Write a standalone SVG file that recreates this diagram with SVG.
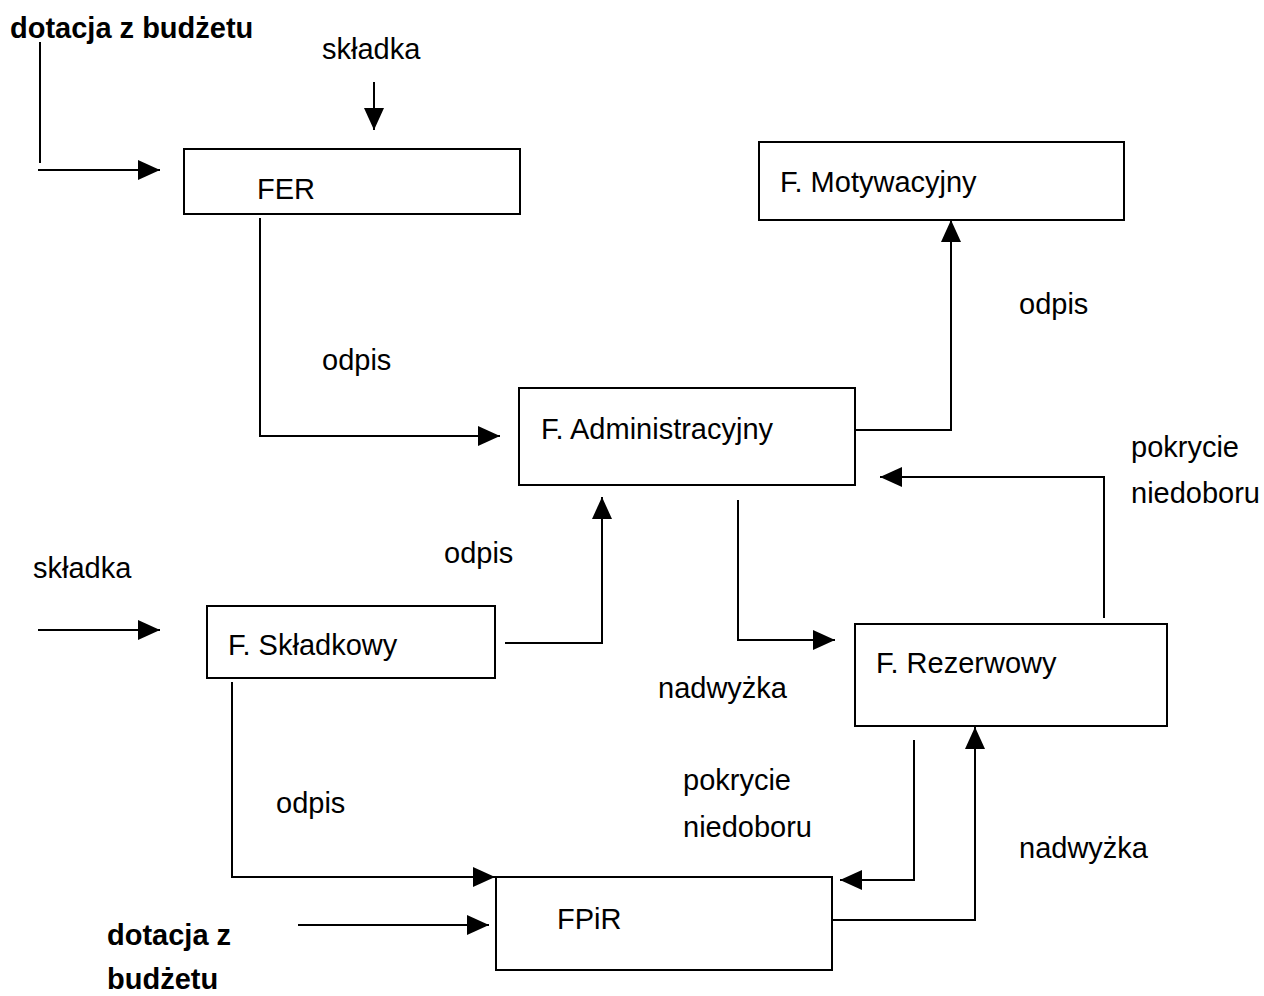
<svg xmlns="http://www.w3.org/2000/svg" width="1264" height="996" viewBox="0 0 1264 996">
<style>
.box{fill:#fff;stroke:#000;stroke-width:2}
.ln{fill:none;stroke:#000;stroke-width:2}
.t{font-family:"Liberation Sans",Arial,sans-serif;font-size:29px;fill:#000}
.b{font-family:"Liberation Sans",Arial,sans-serif;font-size:29px;font-weight:bold;fill:#000}
</style>
<defs>
<marker id="ah" markerWidth="22" markerHeight="20" refX="22" refY="10" orient="auto" markerUnits="userSpaceOnUse" viewBox="0 0 22 20">
<path d="M0,0 L22,10 L0,20 z" fill="#000"/>
</marker>
</defs>
<rect width="1264" height="996" fill="#fff"/>
<g id="connectors">
<polyline class="ln" points="40,42 40,163"/>
<line class="ln" x1="38" y1="170" x2="160" y2="170" marker-end="url(#ah)"/>
<line class="ln" x1="374" y1="82" x2="374" y2="130" marker-end="url(#ah)"/>
<polyline class="ln" points="260,218 260,436 500,436" marker-end="url(#ah)"/>
<polyline class="ln" points="855,430 951,430 951,220" marker-end="url(#ah)"/>
<polyline class="ln" points="1104,618 1104,477 880,477" marker-end="url(#ah)"/>
<line class="ln" x1="38" y1="630" x2="160" y2="630" marker-end="url(#ah)"/>
<polyline class="ln" points="505,643 602,643 602,497" marker-end="url(#ah)"/>
<polyline class="ln" points="738,500 738,640 835,640" marker-end="url(#ah)"/>
<polyline class="ln" points="914,740 914,880 840,880" marker-end="url(#ah)"/>
<polyline class="ln" points="832,920 975,920 975,727" marker-end="url(#ah)"/>
<polyline class="ln" points="232,682 232,877 495,877" marker-end="url(#ah)"/>
<line class="ln" x1="298" y1="925" x2="489" y2="925" marker-end="url(#ah)"/>
</g>
<g id="FER"><rect class="box" x="184" y="149" width="336" height="65"/><text class="t" x="257" y="199">FER</text></g>
<g id="FMotywacyjny"><rect class="box" x="759" y="142" width="365" height="78"/><text class="t" x="780" y="192">F. Motywacyjny</text></g>
<g id="FAdministracyjny"><rect class="box" x="519" y="388" width="336" height="97"/><text class="t" x="541" y="439">F. Administracyjny</text></g>
<g id="FSkladkowy"><rect class="box" x="207" y="606" width="288" height="72"/><text class="t" x="228" y="655">F. Składkowy</text></g>
<g id="FRezerwowy"><rect class="box" x="855" y="624" width="312" height="102"/><text class="t" x="876" y="673">F. Rezerwowy</text></g>
<g id="FPiR"><rect class="box" x="496" y="877" width="336" height="93"/><text class="t" x="557" y="929">FPiR</text></g>
<g id="labels">
<text class="b" x="10" y="38">dotacja z budżetu</text>
<text class="t" x="322" y="59">składka</text>
<text class="t" x="322" y="370">odpis</text>
<text class="t" x="1019" y="314">odpis</text>
<text class="t" x="1131" y="457">pokrycie</text>
<text class="t" x="1131" y="503">niedoboru</text>
<text class="t" x="33" y="578">składka</text>
<text class="t" x="444" y="563">odpis</text>
<text class="t" x="658" y="698">nadwyżka</text>
<text class="t" x="683" y="790">pokrycie</text>
<text class="t" x="683" y="837">niedoboru</text>
<text class="t" x="1019" y="858">nadwyżka</text>
<text class="t" x="276" y="813">odpis</text>
<text class="b" x="107" y="945">dotacja  z</text>
<text class="b" x="107" y="989">budżetu</text>
</g>
</svg>
